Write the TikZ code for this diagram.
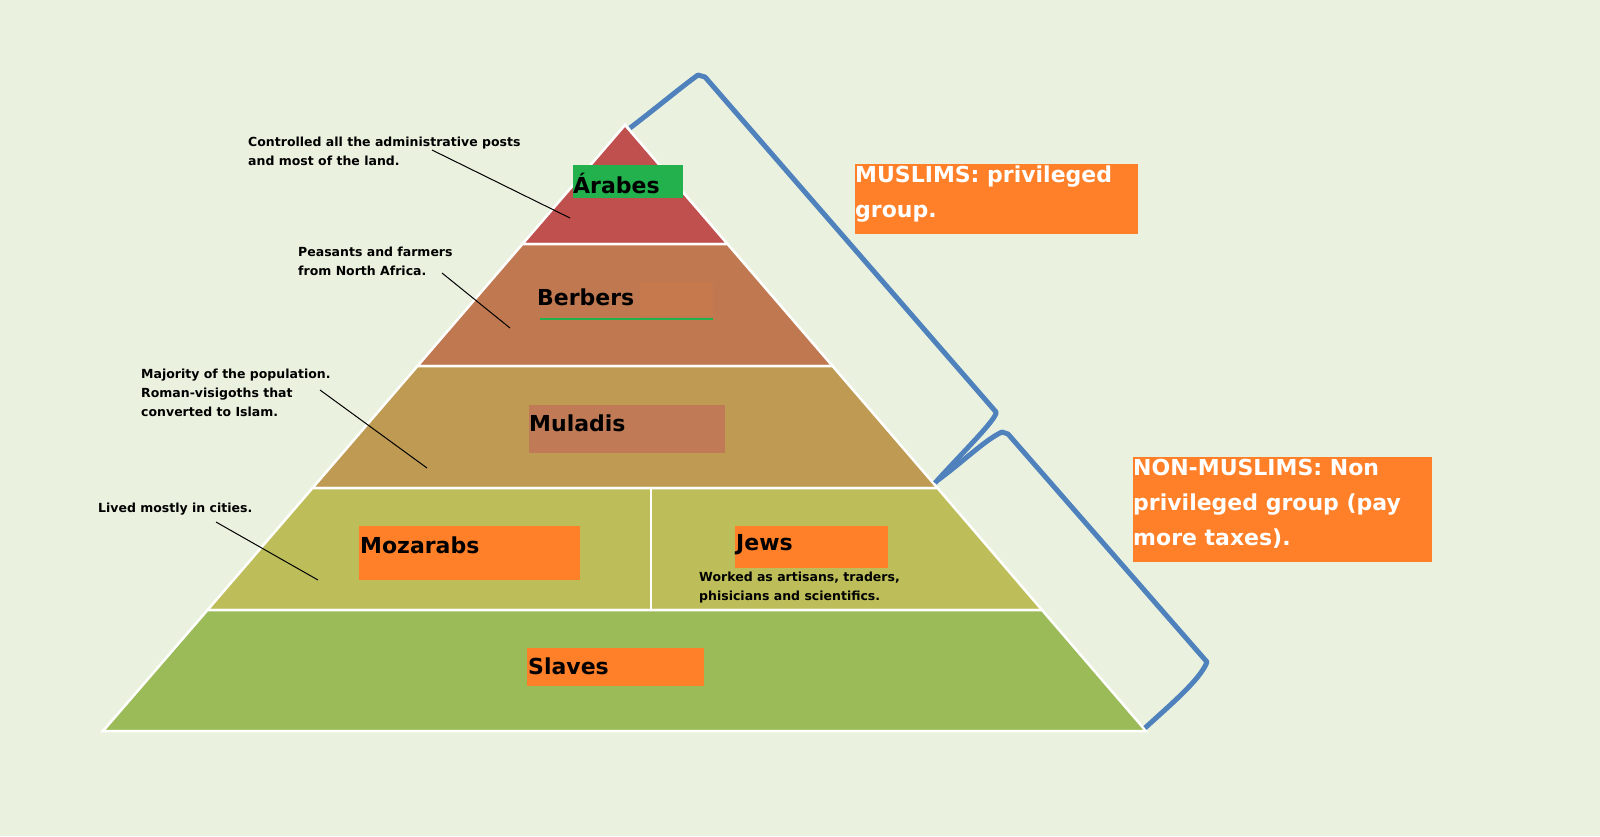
\documentclass[tikz,border=0pt]{standalone}
\usepackage{fontspec}
\setmainfont{DejaVu Sans}
\definecolor{bg}{HTML}{EAF2DF}
\definecolor{l1}{HTML}{C0504D}
\definecolor{l2}{HTML}{C07850}
\definecolor{l3}{HTML}{BE9A52}
\definecolor{l4}{HTML}{BDBE5A}
\definecolor{l5}{HTML}{9BBB59}
\definecolor{org}{HTML}{FF8028}
\definecolor{grn}{HTML}{22B14C}
\definecolor{mul}{HTML}{C07A55}
\definecolor{brk}{HTML}{4F81BD}
\begin{document}
\begin{tikzpicture}[x=1pt,y=-1pt,
  layer/.style={draw=white,line width=2.5pt},
  ttl/.style={font=\bfseries\fontsize{22}{26}\selectfont,anchor=west,inner sep=0pt},
  note/.style={font=\bfseries\fontsize{12.5}{19}\selectfont,anchor=north west,align=left,inner sep=0pt},
  big/.style={font=\bfseries\fontsize{22}{35}\selectfont,text=white,anchor=north west,align=left,inner sep=0pt},
  lead/.style={black,line width=1pt}]
\fill[bg] (0,0) rectangle (1600,836);
\useasboundingbox (0,0) rectangle (1600,836);
% layers
\fill[l1,layer] (625,125) -- (522.5,244) -- (727.5,244) -- cycle;
\fill[l2,layer] (522.5,244) -- (727.5,244) -- (832.5,366) -- (417.5,366) -- cycle;
\fill[l3,layer] (417.5,366) -- (832.5,366) -- (937.5,488) -- (312.5,488) -- cycle;
\fill[l4,layer] (312.5,488) -- (937.5,488) -- (1042,610) -- (207.5,610) -- cycle;
\fill[l5,layer] (207.5,610) -- (1042,610) -- (1146,731) -- (103,731) -- cycle;
\draw[white,line width=2pt] (651,488) -- (651,610);
% boxes
\fill[grn] (573,165) rectangle (683,198);
\fill[l2!90!org] (640,282) rectangle (713,316);
\draw[grn,line width=2.5pt] (540,319) -- (713,319);
\fill[mul] (529,405) rectangle (725,453);
\fill[org] (359,526) rectangle (580,580);
\fill[org] (735,526) rectangle (888,568);
\fill[org] (527,648) rectangle (704,686);
\node[ttl] (arabes) at (573,183) {Árabes};
\node[ttl] (berbers) at (537,297) {Berbers};
\node[ttl] (muladis) at (529,423) {Muladis};
\node[ttl] (mozarabs) at (360,545) {Mozarabs};
\node[ttl] (jews) at (736,545) {Jews};
\node[ttl] (slaves) at (528,666) {Slaves};
% notes
\node[note] (n1) at (248,137) {Controlled all the administrative posts\\and most of the land.};
\node[note] (n2) at (298,247) {Peasants and farmers\\from North Africa.};
\node[note] (n3) at (141,369) {Majority of the population.\\Roman-visigoths that\\converted to Islam.};
\node[note] (n4) at (98,503) {Lived mostly in cities.};
\node[note] (n5) at (699,572) {Worked as artisans, traders,\\phisicians and scientifics.};
\coordinate (c1a) at (432,150); \coordinate (c1b) at (570,218);
\coordinate (c2a) at (442,273); \coordinate (c2b) at (510,328);
\coordinate (c3a) at (320,390); \coordinate (c3b) at (427,468);
\coordinate (c4a) at (216,522); \coordinate (c4b) at (318,580);
\draw[lead] (c1a) -- (c1b);
\draw[lead] (c2a) -- (c2b);
\draw[lead] (c3a) -- (c3b);
\draw[lead] (c4a) -- (c4b);
% brackets
\draw[brk,line width=5pt,line join=round] (630,128) .. controls (660,105) and (680,88) .. (698,75) -- (705,77) -- (996,412) .. controls (998,418) and (960,455) .. (935,483);
\draw[brk,line width=5pt,line join=round] (938,480) .. controls (965,460) and (985,440) .. (1002,432) -- (1008,434) -- (1207,662) .. controls (1200,680) and (1170,705) .. (1145,728);
% right boxes
\fill[org] (855,164) rectangle (1138,234);
\fill[org] (1133,457) rectangle (1432,562);
\node[big] (mus) at (855,166) {MUSLIMS: privileged\\group.};
\node[big] (non) at (1133,459) {NON-MUSLIMS: Non\\privileged group (pay\\more taxes).};
\end{tikzpicture}
\end{document}
